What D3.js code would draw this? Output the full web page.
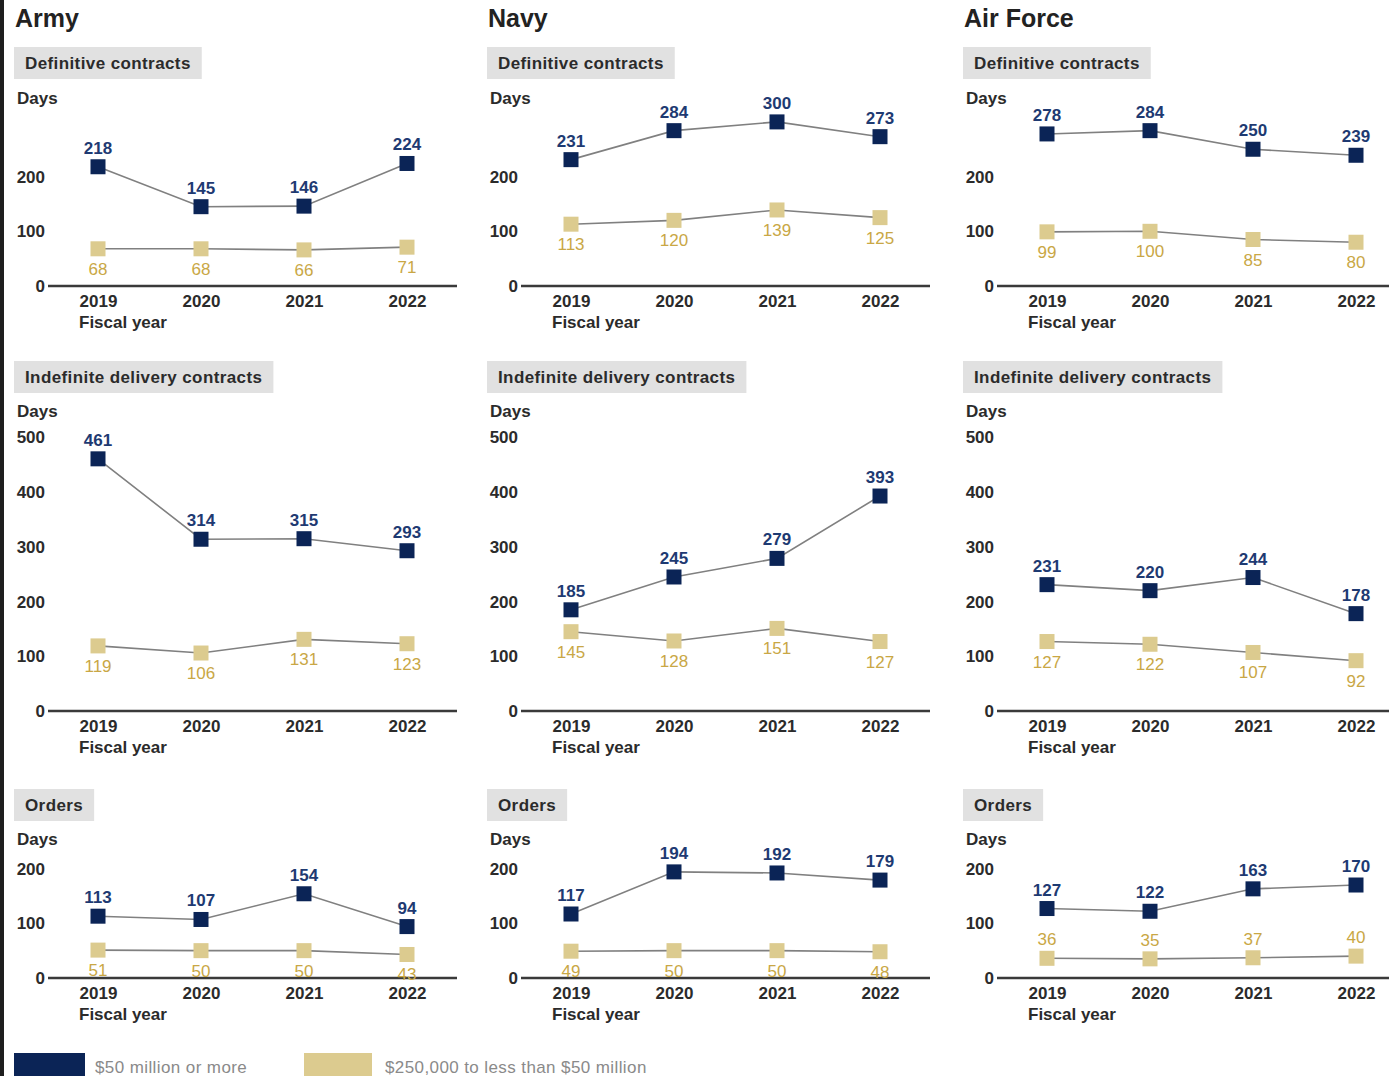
<!DOCTYPE html>
<html>
<head>
<meta charset="utf-8">
<script src="https://cdn.jsdelivr.net/npm/d3@7"></script>
<style>
  html, body { margin: 0; padding: 0; background: #fff; }
  svg { display: block; font-family: "Liberation Sans", Arial, sans-serif; }
</style>
</head>
<body>
<svg id="chart" width="1389" height="1076"></svg>
<script>
// ---------------- DATA ----------------
const services = ["Army", "Navy", "Air Force"];
const contractTypes = ["Definitive contracts", "Indefinite delivery contracts", "Orders"];
const years = ["2019", "2020", "2021", "2022"];
const seriesNames = ["$50 million or more", "$250,000 to less than $50 million"];

// $50 million or more (per service: Army, Navy, Air Force)
const largeDefinitive = [[218, 145, 146, 224], [231, 284, 300, 273], [278, 284, 250, 239]];
const largeIndefinite = [[461, 314, 315, 293], [185, 245, 279, 393], [231, 220, 244, 178]];
const largeOrders     = [[113, 107, 154, 94],  [117, 194, 192, 179], [127, 122, 163, 170]];

// $250,000 to less than $50 million
const smallDefinitive = [[68, 68, 66, 71],     [113, 120, 139, 125], [99, 100, 85, 80]];
const smallIndefinite = [[119, 106, 131, 123], [145, 128, 151, 127], [127, 122, 107, 92]];
const smallOrders     = [[51, 50, 50, 43],     [49, 50, 50, 48],     [36, 35, 37, 40]];

// y-axis tick labels per row
const ticksDefinitive = [0, 100, 200];
const ticksIndefinite = [0, 100, 200, 300, 400, 500];
const ticksOrders     = [0, 100, 200];

// ---------------- LAYOUT ----------------
const largeRows = [largeDefinitive, largeIndefinite, largeOrders];
const smallRows = [smallDefinitive, smallIndefinite, smallOrders];
const tickRows = [ticksDefinitive, ticksIndefinite, ticksOrders];

const colOffset = [0, 473, 949];
const rowZero = [286, 711, 978];
const rowBoxTop = [47, 361, 789];
const rowDays = [98, 411, 839];
const pxPerDay = 0.547;
// small-series label above the marker? (row, col)
const smallAbove = [[false, false, false], [false, false, false], [false, false, true]];

const NAVY = "#0b2456", NAVY_TXT = "#1e3a72";
const TAN = "#dccb8f", TAN_TXT = "#c9a745";
const LINE = "#808080", TXT = "#2b2b2b";
const FS = 17;
const LS = "0.4px";

const svg = d3.select("#chart");
svg.append("rect").attr("x", 0).attr("y", 0).attr("width", 1389).attr("height", 1076).attr("fill", "#fff");
svg.append("rect").attr("x", 0).attr("y", 0).attr("width", 4).attr("height", 1076).attr("fill", "#1e1e1e");

services.forEach((svc, c) => {
  const ox = colOffset[c];
  svg.append("text").attr("x", ox + 15).attr("y", 27)
    .attr("font-size", 25).attr("font-weight", "bold").attr("fill", "#222").text(svc);

  contractTypes.forEach((ct, r) => {
    const g = svg.append("g").attr("transform", `translate(${ox},0)`);
    const zero = rowZero[r];
    const ticks = tickRows[r];
    const yMax = d3.max(ticks);
    const y = d3.scaleLinear().domain([0, yMax]).range([zero, zero - yMax * pxPerDay]);
    const x = d3.scalePoint().domain(years).range([98, 407]);

    // panel label box
    const lbl = g.append("text").attr("x", 25).attr("y", rowBoxTop[r] + 22)
      .attr("font-size", FS).attr("font-weight", "bold").attr("fill", TXT)
      .attr("letter-spacing", LS).text(ct);
    const w = lbl.node().getComputedTextLength();
    g.insert("rect", "text").attr("x", 14).attr("y", rowBoxTop[r])
      .attr("width", w + 22).attr("height", 32).attr("fill", "#e1e1e1");

    g.append("text").attr("x", 17).attr("y", rowDays[r] + 6)
      .attr("font-size", FS).attr("font-weight", "bold").attr("fill", TXT).text("Days");

    // y axis
    const ya = g.append("g").attr("transform", "translate(45,0)")
      .call(d3.axisLeft(y).tickValues(ticks).tickSize(0).tickPadding(0).tickFormat(d3.format("d")));
    ya.select(".domain").remove();
    ya.selectAll("text").attr("font-size", FS).attr("font-weight", "bold").attr("fill", TXT)
      .attr("font-family", "Liberation Sans, Arial, sans-serif");

    // x axis
    const xa = g.append("g").attr("transform", `translate(0,${zero})`)
      .call(d3.axisBottom(x).tickSize(0).tickPadding(9));
    xa.select(".domain").remove();
    xa.selectAll("text").attr("font-size", FS).attr("font-weight", "bold").attr("fill", TXT)
      .attr("font-family", "Liberation Sans, Arial, sans-serif");

    g.append("text").attr("x", x("2019") - 19).attr("y", zero + 42)
      .attr("font-size", FS).attr("font-weight", "bold").attr("fill", TXT).text("Fiscal year");

    // series
    const series = [
      { vals: smallRows[r][c], fill: TAN, txt: TAN_TXT, above: smallAbove[r][c], weight: "normal" },
      { vals: largeRows[r][c], fill: NAVY, txt: NAVY_TXT, above: true, weight: "bold" }
    ];
    const line = d3.line().x((d, i) => x(years[i])).y(d => y(d));
    series.forEach(s => {
      g.append("path").attr("d", line(s.vals)).attr("fill", "none")
        .attr("stroke", LINE).attr("stroke-width", 1.6);
    });
    // zero line
    const xEnd = c === 2 ? 1389 - ox : 457;
    g.append("line").attr("x1", 48).attr("x2", xEnd).attr("y1", y(0)).attr("y2", y(0))
      .attr("stroke", "#3a3a3a").attr("stroke-width", 2.4);
    series.forEach(s => {
      const ms = 15;
      g.selectAll(null).data(s.vals).join("rect")
        .attr("x", (d, i) => x(years[i]) - ms / 2).attr("y", d => y(d) - ms / 2)
        .attr("width", ms).attr("height", ms).attr("fill", s.fill);
      g.selectAll(null).data(s.vals).join("text")
        .attr("x", (d, i) => x(years[i])).attr("y", d => y(d) + (s.above ? -13 : 26))
        .attr("text-anchor", "middle").attr("font-size", FS).attr("font-weight", s.weight)
        .attr("fill", s.txt).text(d => d);
    });
  });
});

// legend
const legend = [
  { x: 14, w: 71, tx: 95, fill: NAVY, name: seriesNames[0] },
  { x: 304, w: 68, tx: 385, fill: TAN, name: seriesNames[1] }
];
legend.forEach(l => {
  svg.append("rect").attr("x", l.x).attr("y", 1053).attr("width", l.w).attr("height", 30).attr("fill", l.fill);
  svg.append("text").attr("x", l.tx).attr("y", 1073).attr("font-size", FS).attr("fill", "#8a8a8a")
    .attr("letter-spacing", LS).text(l.name);
});
</script>
</body>
</html>
